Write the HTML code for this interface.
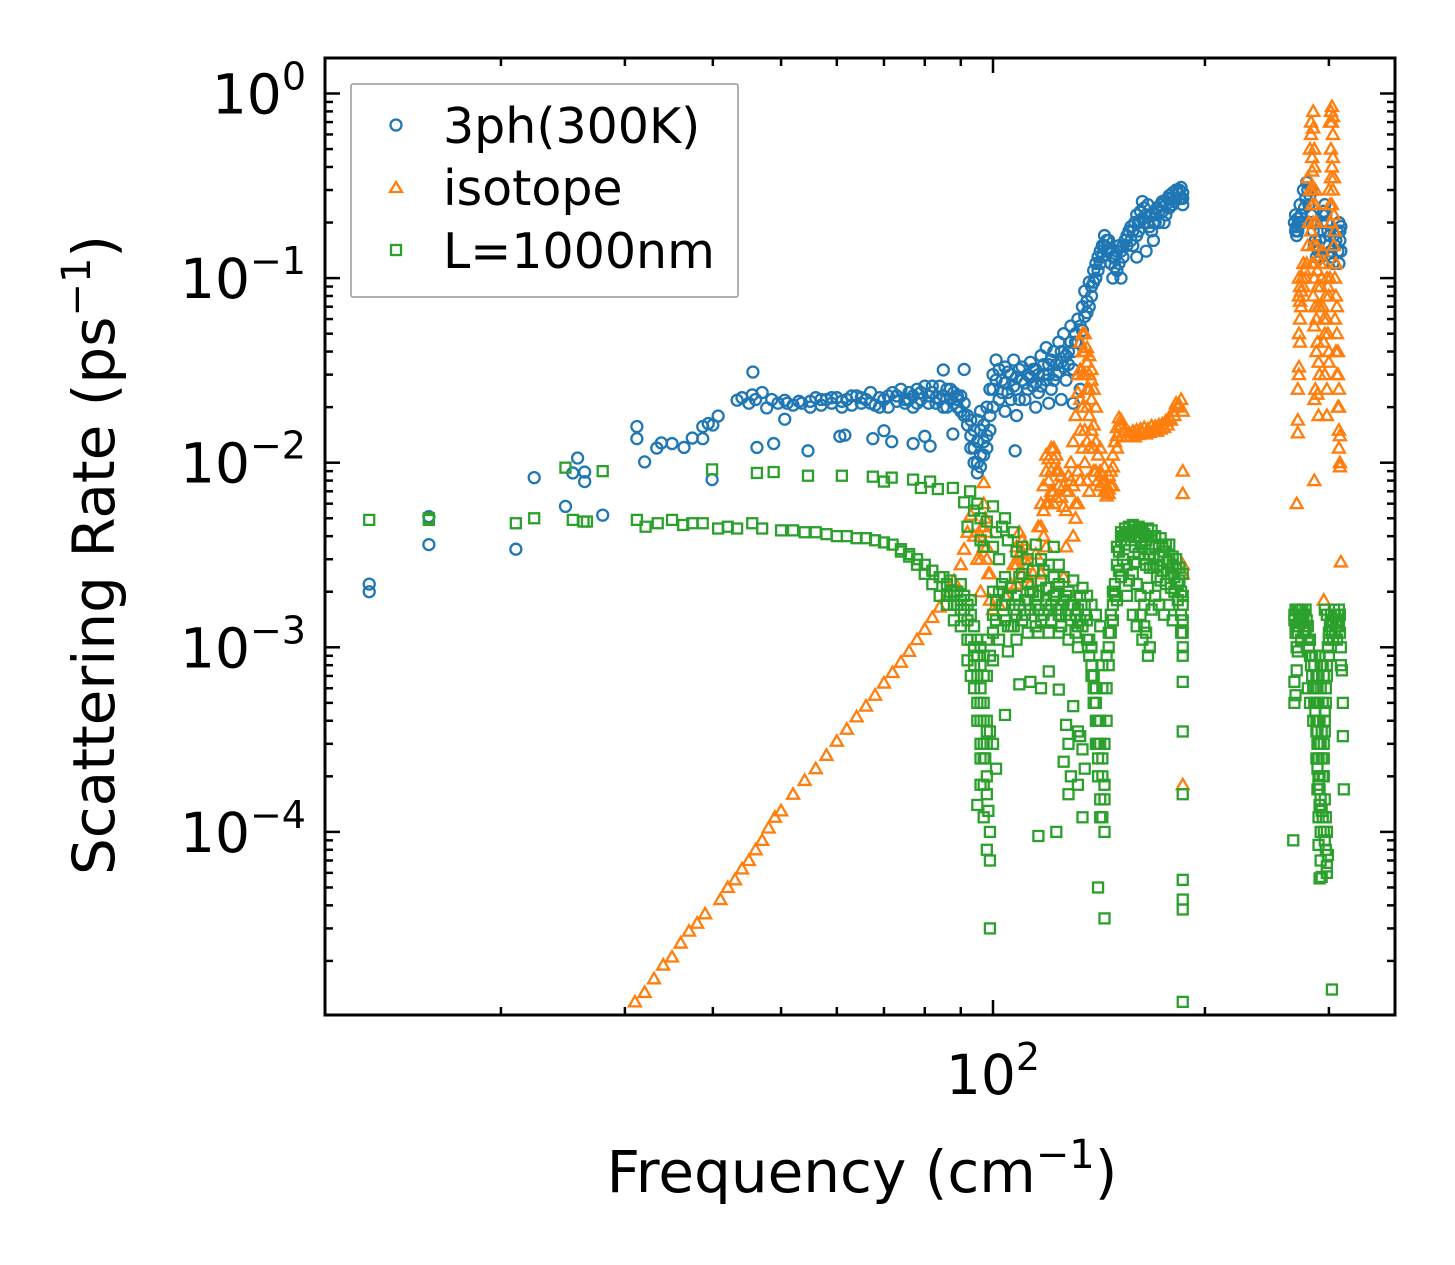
<!DOCTYPE html>
<html><head><meta charset="utf-8"><style>
html,body{margin:0;padding:0;background:#fff;}
svg{display:block;font-family:"DejaVu Sans","Liberation Sans",sans-serif;}
</style></head><body>
<svg id="chart" width="1455" height="1265" viewBox="0 0 1455 1265" xmlns="http://www.w3.org/2000/svg">
<defs><clipPath id="plotclip"><rect x="325" y="58" width="1070" height="957"/></clipPath></defs>
<rect width="1455" height="1265" fill="#fff"/>
<g id="marks" clip-path="url(#plotclip)"></g>
<g id="axes"></g>
<text x="862" y="1192" font-size="58" text-anchor="middle">Frequency (cm<tspan dy="-24" font-size="40">−1</tspan><tspan dy="24">)</tspan></text>
<text transform="translate(114,555) rotate(-90)" font-size="58" text-anchor="middle">Scattering Rate (ps<tspan dy="-24" font-size="40">−1</tspan><tspan dy="24">)</tspan></text>
<g>
<rect x="351" y="84" width="387" height="213" fill="#fff" fill-opacity="0.8" stroke="#999" stroke-width="1.5" rx="2"/>
<circle cx="396" cy="125" r="5.5" fill="none" stroke="#1f77b4" stroke-width="2.3"/>
<text x="443" y="143" font-size="49">3ph(300K)</text>
<path d="M396,182 L402,192 L390,192 Z" fill="none" stroke="#ff7f0e" stroke-width="2.3"/>
<text x="443" y="205" font-size="49">isotope</text>
<rect x="391" y="245" width="10" height="10" fill="none" stroke="#2ca02c" stroke-width="2.3"/>
<text x="443" y="268" font-size="49">L=1000nm</text>
</g>
</svg>
<script>
const threephPts = [[13,0.0022],[13,0.002],[15.8,0.0051],[15.8,0.0036],[21,0.0034],[22.3,0.0083],[24.7,0.0058],[25.3,0.0088],[25.7,0.0106],[26.3,0.0089],[26.3,0.0079],[27.9,0.0052],[31.2,0.0157],[31.2,0.0135],[32,0.0101],[33.3,0.012],[33.8,0.0128],[35,0.0127],[36.4,0.0121],[37.4,0.0136],[38.7,0.0135],[38.7,0.0157],[39.4,0.0163],[40,0.016],[40.7,0.0179],[39.9,0.0081],[43.3,0.0218],[44,0.0225],[45.5,0.0233],[45.6,0.031],[47,0.024],[47.7,0.0198],[48.5,0.022],[49.5,0.021],[50.6,0.0218],[50.6,0.0172],[52,0.0205],[53.5,0.021],[55,0.0215],[56,0.0225],[57,0.0205],[58,0.022],[59,0.021],[60,0.0225],[61,0.0215],[62,0.022],[63,0.0205],[64,0.023],[65,0.021],[66,0.022],[67,0.024],[68,0.0205],[69,0.0225],[70,0.022],[71,0.02],[72,0.024],[73,0.0215],[74,0.025],[75,0.022],[76,0.024],[77,0.02],[78,0.025],[79,0.022],[80,0.026],[81,0.021],[82,0.024],[83,0.0225],[84,0.026],[85,0.0318],[85,0.02],[86,0.025],[87,0.022],[88,0.024],[89,0.02],[90,0.023],[91,0.032],[91,0.018],[92,0.016],[93,0.014],[94,0.012],[95,0.01],[95,0.0088],[96,0.011],[96,0.015],[97,0.013],[98,0.02],[99,0.018],[99,0.025],[46.2,0.0121],[48.8,0.0127],[54.6,0.0116],[60.6,0.0139],[61.6,0.0141],[67.5,0.0135],[70,0.0149],[71.8,0.013],[77,0.0127],[80,0.0139],[81.4,0.0123],[87.7,0.0143],[107.5,0.0116],[100,0.03],[101,0.036],[102,0.022],[103,0.028],[104,0.033],[105,0.024],[106,0.03],[107,0.036],[108,0.025],[109,0.032],[110,0.028],[111,0.022],[112,0.03],[113,0.035],[114,0.026],[115,0.032],[116,0.024],[117,0.038],[118,0.03],[119,0.042],[120,0.034],[121,0.025],[122,0.04],[123,0.03],[124,0.045],[125,0.035],[126,0.05],[127,0.028],[128,0.04],[129,0.055],[130,0.032],[131,0.045],[132,0.06],[133,0.025],[134,0.07],[135,0.085],[136,0.065],[137,0.095],[138,0.08],[139,0.11],[140,0.1],[141,0.13],[142,0.12],[143,0.15],[144,0.17],[145,0.14],[146,0.16],[147,0.12],[148,0.1],[149,0.13],[150,0.11],[151,0.15],[152,0.1],[153,0.13],[155,0.17],[157,0.19],[158,0.15],[160,0.22],[161,0.18],[163,0.26],[164,0.2],[166,0.25],[167,0.22],[169,0.16],[170,0.2],[172,0.23],[174,0.26],[176,0.22],[178,0.28],[180,0.25],[182,0.3],[184,0.27],[185,0.31],[186,0.29],[186,0.25],[175,0.2],[165,0.14],[160,0.13],[100,0.02],[104,0.019],[108,0.018],[115,0.02],[120,0.021],[125,0.022],[130,0.021],[268,0.2],[269,0.22],[270,0.17],[271,0.21],[273,0.25],[276,0.3],[279,0.33],[282,0.28],[284,0.2],[286,0.15],[288,0.13],[290,0.14],[292,0.18],[294,0.22],[296,0.25],[298,0.2],[300,0.15],[303,0.13],[306,0.15],[308,0.18],[310,0.2],[311,0.16],[312,0.14],[312,0.19]];
const threephPtsExtra = [[100,0.025],[101,0.028],[102,0.032],[103,0.024],[104,0.027],[105,0.031],[106,0.022],[107,0.026],[108,0.029],[109,0.022],[110,0.033],[111,0.027],[112,0.025],[113,0.029],[114,0.032],[115,0.027],[116,0.03],[117,0.026],[118,0.034],[119,0.028],[120,0.03],[121,0.036],[122,0.028],[123,0.034],[124,0.031],[125,0.04],[126,0.033],[127,0.038],[128,0.034],[129,0.045],[130,0.04],[131,0.05],[132,0.045],[133,0.055],[134,0.052],[135,0.062],[136,0.075],[137,0.07],[138,0.09],[139,0.095],[140,0.12],[141,0.11],[142,0.14],[143,0.13],[144,0.15],[145,0.16],[146,0.14],[147,0.145],[148,0.13],[149,0.115],[150,0.14],[151,0.12],[152,0.14],[153,0.15],[154,0.16],[155,0.15],[156,0.18],[157,0.16],[158,0.18],[159,0.2],[160,0.17],[161,0.2],[162,0.23],[163,0.21],[164,0.24],[165,0.22],[166,0.2],[167,0.19],[168,0.18],[169,0.2],[170,0.22],[171,0.24],[172,0.2],[173,0.25],[174,0.23],[175,0.26],[176,0.25],[177,0.27],[178,0.24],[179,0.27],[180,0.29],[181,0.26],[182,0.27],[183,0.29],[184,0.3],[185,0.27],[186,0.27],[92,0.018],[93,0.017],[93,0.012],[94,0.015],[94,0.01],[95,0.013],[96,0.0095],[97,0.011],[97,0.016],[98,0.014],[98,0.012],[99,0.015],[96,0.019],[95,0.017],[90,0.019],[91,0.021],[89,0.023],[45,0.021],[46,0.022],[51,0.021],[53,0.0215],[55,0.02],[57,0.022],[59,0.0225],[61,0.02],[63,0.023],[65,0.0225],[67,0.021],[69,0.02],[71,0.023],[73,0.023],[75,0.021],[77,0.023],[79,0.024],[81,0.023],[83,0.021],[85,0.023],[87,0.025],[89,0.022],[84,0.022],[86,0.02],[88,0.021],[82,0.026],[78,0.021],[76,0.022],[270,0.19],[271,0.18],[272,0.2],[274,0.22],[275,0.2],[277,0.24],[278,0.27],[280,0.3],[281,0.25],[283,0.22],[285,0.18],[287,0.16],[289,0.15],[291,0.16],[293,0.2],[295,0.23],[297,0.22],[299,0.18],[301,0.17],[302,0.14],[304,0.12],[305,0.17],[307,0.16],[309,0.14],[310,0.12],[311,0.18],[269,0.18],[283,0.3],[292,0.13]];
const isotopePts = [[31,1.2e-5],[32,1.35e-5],[33,1.6e-5],[34,1.9e-5],[35,2.1e-5],[36,2.5e-5],[37,2.9e-5],[38,3.2e-5],[39,3.6e-5],[41,4.3e-5],[42,5e-5],[43,5.5e-5],[44,6.3e-5],[45,7e-5],[46,8e-5],[47,9e-5],[48,1.05e-4],[49,1.2e-4],[50,1.3e-4],[52,1.6e-4],[54,1.9e-4],[56,2.2e-4],[58,2.6e-4],[60,3.1e-4],[62,3.6e-4],[64,4.2e-4],[66,4.8e-4],[68,5.5e-4],[70,6.4e-4],[72,7.3e-4],[74,8.3e-4],[76,9.5e-4],[78,1.1e-3],[80,1.25e-3],[82,1.45e-3],[84,1.65e-3],[86,1.9e-3],[88,2.3e-3],[90,2.8e-3],[91,3.4e-3],[92,4.2e-3],[93,5.2e-3],[94,4e-3],[95,3e-3],[96,0.002],[96,0.003],[96.5,0.0045],[97,0.006],[97,0.0078],[97.5,0.005],[98,0.0035],[98.5,0.0025],[99,0.0018],[100,0.0016],[102,0.0017],[104,0.0019],[106,0.0022],[107,0.0028],[108,0.0035],[109,0.0042],[110,0.0038],[111,0.003],[112,0.0024],[113,0.0022],[114,0.0025],[115,0.0032],[116,0.0045],[117,0.006],[118,0.0075],[119,0.009],[120,0.0105],[121,0.012],[122,0.0105],[123,0.009],[124,0.0075],[125,0.0065],[126,0.0058],[127,0.0055],[128,0.007],[129,0.01],[130,0.013],[131,0.018],[132,0.024],[133,0.032],[134,0.04],[135,0.05],[136,0.042],[137,0.03],[138,0.022],[139,0.016],[140,0.013],[141,0.011],[142,0.009],[143,0.0078],[144,0.007],[145,0.0066],[146,0.0072],[147,0.009],[148,0.011],[149,0.013],[150,0.0155],[151,0.0175],[152,0.016],[153,0.0145],[155,0.0138],[157,0.014],[159,0.0138],[161,0.0142],[163,0.0145],[165,0.0143],[167,0.0146],[169,0.015],[171,0.0148],[173,0.0152],[175,0.0155],[177,0.016],[179,0.017],[181,0.018],[183,0.02],[185,0.022],[186,0.019],[130,0.004],[131,0.006],[132,0.009],[133,0.015],[134,0.02],[135,0.03],[136,0.025],[137,0.018],[136,0.013],[118,0.004],[120,0.006],[122,0.007],[119,0.0035],[117,0.0025],[127,0.0035],[126,0.0024],[110,0.0025],[108,0.0022],[142,0.012],[144,0.0095],[146,0.0085],[148,0.0075],[150,0.012],[140,0.02],[139,0.025],[138,0.032],[186,0.009],[186,0.0068],[186,0.0028],[186,0.0025],[186,0.00018],[272,0.1],[272,0.08],[273,0.06],[273,0.045],[272,0.033],[272,0.03],[271,0.017],[271,0.0145],[270,0.006],[280,0.35],[282,0.5],[284,0.3],[285,0.8],[285,0.2],[286,0.12],[285,0.08],[286,0.055],[288,0.04],[287,0.025],[286,0.022],[289,0.0235],[290,0.018],[286,0.008],[292,0.12],[294,0.14],[295,0.045],[296,0.03],[298,0.025],[298,0.018],[300,0.3],[302,0.5],[303,0.85],[304,0.6],[305,0.15],[306,0.06],[307,0.04],[308,0.03],[309,0.02],[310,0.015],[310,0.012],[311,0.01],[311,0.0095],[295,0.0018],[312,0.0029]];
const isotopePtsExtra = [[283,0.7],[283,0.6],[284,0.45],[284,0.38],[285,0.65],[286,0.5],[286,0.4],[287,0.3],[287,0.25],[288,0.2],[288,0.15],[289,0.11],[289,0.09],[290,0.07],[284,0.25],[285,0.15],[286,0.1],[287,0.07],[288,0.06],[289,0.045],[290,0.035],[291,0.03],[283,0.18],[284,0.12],[282,0.3],[281,0.2],[280,0.15],[279,0.12],[278,0.1],[276,0.09],[274,0.085],[273,0.075],[301,0.7],[302,0.8],[303,0.7],[304,0.75],[304,0.45],[303,0.4],[302,0.35],[301,0.25],[302,0.2],[303,0.25],[304,0.3],[305,0.22],[305,0.35],[306,0.18],[306,0.1],[307,0.12],[307,0.08],[308,0.07],[308,0.05],[309,0.04],[309,0.03],[310,0.025],[310,0.02],[311,0.014],[296,0.12],[298,0.1],[299,0.09],[300,0.08],[301,0.1],[297,0.08],[298,0.06],[299,0.05],[300,0.04],[300,0.035],[296,0.05],[295,0.06],[294,0.07],[293,0.1],[292,0.09],[291,0.07],[271,0.025],[272,0.05],[273,0.09],[274,0.07],[275,0.1],[276,0.12],[277,0.11],[132,0.03],[133,0.045],[134,0.05],[133,0.022],[134,0.03],[135,0.04],[136,0.035],[137,0.038],[138,0.028],[137,0.025],[136,0.02],[135,0.015],[134,0.012],[133,0.008],[132,0.006],[131,0.005],[137,0.012],[138,0.015],[139,0.012],[140,0.009],[141,0.008],[142,0.0075],[139,0.009],[135,0.01],[136,0.008],[137,0.007],[119,0.011],[120,0.008],[121,0.009],[122,0.012],[123,0.011],[121,0.007],[119,0.006],[118,0.0055],[117,0.0045],[122,0.006],[123,0.0065],[124,0.009],[125,0.0085],[126,0.0075],[127,0.007],[128,0.0085],[129,0.008],[130,0.0075],[152,0.017],[154,0.015],[156,0.0145],[158,0.0148],[160,0.015],[162,0.0152],[164,0.0155],[166,0.0152],[168,0.0158],[170,0.0157],[172,0.016],[174,0.0162],[176,0.0168],[178,0.0175],[180,0.019],[182,0.021],[184,0.0205],[150,0.014],[148,0.0095],[147,0.0075],[146,0.0068],[145,0.0072],[144,0.0078],[143,0.0085],[109,0.0032],[110,0.0033],[111,0.0036],[108,0.0028],[112,0.0028],[96,0.004],[97,0.0045],[97,0.0035],[98,0.0042],[98,0.003],[99,0.0025]];
const boundaryPts = [[13,0.0049],[15.8,0.005],[15.8,0.0049],[21,0.0047],[22.3,0.005],[24.7,0.0094],[25.3,0.0049],[26.2,0.0048],[26.5,0.0048],[27.9,0.009],[31.2,0.0049],[32.1,0.0045],[33.4,0.0047],[35,0.0049],[36.3,0.0046],[37.4,0.0047],[38.7,0.0047],[39.9,0.0092],[40.7,0.0044],[42,0.0045],[43.3,0.0044],[45.5,0.0047],[46.2,0.0088],[47,0.0044],[48.8,0.0089],[50,0.0043],[52,0.0043],[54,0.0042],[54.6,0.0085],[56,0.0042],[58,0.0041],[60,0.004],[61,0.0085],[62,0.004],[64,0.0039],[66,0.0039],[67.5,0.0084],[68,0.0038],[70,0.0079],[70,0.0037],[71.8,0.0083],[72,0.0036],[74,0.0034],[76,0.0032],[77,0.0081],[78,0.003],[79,0.0073],[80,0.0028],[81.4,0.0079],[82,0.0026],[83.5,0.0072],[84,0.0024],[85,0.0024],[86,0.0022],[87,0.002],[87.7,0.0073],[88,0.0019],[89,0.0017],[90,0.0016],[91,0.0061],[92.8,0.007],[90,0.0022],[91,0.0019],[92,0.0017],[93,0.0015],[94,0.0013],[95,0.0011],[95,0.0009],[96,0.0008],[96,0.0006],[97,0.0005],[97,0.0004],[97,0.0003],[97.5,0.00025],[98,0.0002],[98,0.00016],[98.5,0.00013],[99,0.0001],[97,0.00012],[98,0.00008],[99,0.00007],[99,0.00003],[98,0.0007],[99,0.0009],[100,0.0012],[100,0.0015],[101,0.0018],[102,0.002],[103,0.0022],[104,0.0017],[105,0.0013],[106,0.0021],[107,0.0016],[108,0.0019],[109,0.0024],[110,0.0014],[111,0.0018],[112,0.0022],[113,0.0016],[114,0.002],[115,0.0013],[116,0.0019],[117,0.0023],[118,0.0015],[119,0.0018],[120,0.0021],[121,0.0014],[122,0.0019],[123,0.0016],[124,0.0022],[125,0.0013],[126,0.0018],[127,0.0015],[128,0.002],[129,0.0014],[130,0.0017],[131,0.0012],[132,0.0016],[133,0.0019],[134,0.0013],[135,0.0015],[136,0.0011],[137,0.0009],[138,0.0007],[139,0.0005],[140,0.0004],[140,0.0003],[141,0.00025],[141,0.0002],[142,0.00015],[142,0.00012],[143,0.0006],[143,0.0008],[144,0.0003],[144,0.0001],[141,0.00005],[144,0.000034],[145,0.0009],[146,0.0012],[147,0.0015],[148,0.0017],[92,0.0011],[94,0.0009],[100,0.00085],[102,0.0011],[104,0.0024],[106,0.0013],[108,0.0011],[110,0.0025],[112,0.0012],[114,0.0026],[116,0.0012],[118,0.0026],[120,0.0012],[122,0.0024],[124,0.0012],[126,0.0024],[128,0.0011],[130,0.0023],[132,0.001],[134,0.0021],[136,0.0019],[138,0.0017],[140,0.0015],[142,0.0013],[90,0.0013],[88,0.0014],[86,0.0017],[84,0.0019],[82,0.0022],[80,0.0025],[78,0.0028],[76,0.0031],[74,0.0033],[92,0.0045],[94,0.0055],[95,0.006],[96,0.005],[98,0.0048],[100,0.0058],[101,0.0042],[103,0.0045],[104,0.005],[105,0.0038],[107,0.0042],[108,0.0033],[110,0.0035],[112,0.003],[115,0.0036],[117,0.003],[120,0.0028],[122,0.0035],[124,0.0028],[100,0.0035],[102,0.003],[97,0.0035],[96,0.0038],[92,0.00085],[93,0.0007],[94,0.0006],[104,0.00043],[105,0.00095],[109,0.00063],[113,0.00065],[117,0.0006],[120,0.00074],[124,0.00059],[126,0.00024],[127,0.00038],[128,0.0003],[129,0.0002],[130,0.00048],[132,0.00035],[133,0.00033],[134,0.00028],[135,0.00022],[128,0.00016],[132,0.00018],[134,0.00012],[116,0.000095],[123,0.0001],[98,0.0004],[99,0.00035],[100,0.0003],[101,0.00022],[96,0.00025],[96,0.00018],[95,0.00014],[149,0.0022],[150,0.0028],[151,0.0033],[152,0.0038],[153,0.004],[154,0.0036],[155,0.0042],[156,0.0045],[157,0.0038],[158,0.0043],[159,0.0035],[160,0.004],[161,0.0045],[162,0.0037],[163,0.0042],[164,0.003],[165,0.0038],[166,0.0044],[167,0.0032],[168,0.004],[169,0.0027],[170,0.0035],[171,0.0024],[172,0.0031],[173,0.0039],[174,0.0026],[175,0.0033],[176,0.0022],[177,0.0029],[178,0.0036],[179,0.0025],[180,0.0031],[181,0.002],[182,0.0027],[183,0.0018],[184,0.0023],[185,0.0015],[185,0.0012],[186,0.001],[186,0.0009],[186,0.0025],[186,0.0019],[186,0.0014],[186,0.00065],[186,0.00035],[186,0.00016],[186,0.000055],[186,0.000043],[186,0.000038],[186,0.000012],[150,0.0018],[152,0.0024],[155,0.0028],[158,0.0025],[160,0.0022],[162,0.0019],[164,0.0017],[166,0.0021],[168,0.0016],[170,0.0019],[160,0.0013],[163,0.0011],[166,0.0009],[158,0.0015],[155,0.0019],[172,0.0017],[175,0.0015],[178,0.0017],[180,0.0014],[268,0.0014],[269,0.0012],[270,0.001],[271,0.0016],[272,0.0013],[273,0.0015],[274,0.0011],[275,0.0014],[276,0.0012],[278,0.0016],[280,0.0013],[282,0.0011],[284,0.0009],[286,0.0008],[287,0.0006],[288,0.0005],[289,0.0004],[290,0.0003],[288,0.00035],[290,0.00025],[291,0.0002],[289,0.00017],[291,0.00014],[290,0.00012],[292,0.0001],[290,0.000085],[292,0.00007],[291,0.000056],[293,0.000057],[270,0.00075],[268,0.00065],[269,0.00055],[268,0.0005],[271,0.00095],[267,0.00009],[296,0.0016],[298,0.0015],[300,0.0012],[302,0.0014],[304,0.0011],[306,0.0015],[308,0.0013],[310,0.0016],[311,0.0012],[312,0.001],[300,0.0009],[298,0.0007],[297,0.0005],[296,0.0004],[296,0.00035],[295,0.00025],[295,0.0002],[296,0.00015],[297,0.00012],[298,0.0001],[299,0.000075],[298,0.00006],[298,0.000065],[312,0.0008],[313,0.00075],[314,0.0005],[314,0.00033],[315,0.00017],[303,0.000014],[280,0.0006],[282,0.0005],[285,0.0004],[292,0.0006],[294,0.0008]];
const boundaryPtsExtra = [[268,0.0015],[269,0.0016],[270,0.0013],[271,0.0012],[272,0.0015],[273,0.0016],[274,0.0014],[275,0.0016],[276,0.0015],[277,0.0013],[278,0.0012],[279,0.0014],[280,0.0011],[281,0.001],[282,0.0009],[283,0.0008],[284,0.0007],[285,0.0006],[286,0.0005],[287,0.00045],[288,0.0004],[289,0.00035],[290,0.0005],[291,0.0004],[292,0.0003],[293,0.00025],[294,0.0002],[295,0.0003],[296,0.00045],[297,0.0006],[298,0.0008],[299,0.001],[300,0.0011],[301,0.0013],[302,0.0015],[303,0.0012],[304,0.0014],[305,0.0016],[306,0.0012],[307,0.0014],[308,0.0011],[309,0.0015],[310,0.0013],[311,0.0015],[289,0.0003],[290,0.0002],[291,0.00017],[292,0.00015],[293,0.00013],[294,0.00012],[295,0.0001],[296,0.00009],[297,0.00008],[288,0.00025],[289,0.00022],[290,0.00018],[293,0.00035],[294,0.0005],[295,0.0007],[292,0.0008],[291,0.0009],[290,0.0007],[289,0.0006],[288,0.0007],[287,0.0009],[95,0.0007],[96,0.0005],[96,0.0004],[97,0.0007],[97,0.00025],[98,0.00035],[98,0.0003],[97,0.00018],[96,0.0003],[95,0.0005],[95,0.0004],[94,0.0008],[94,0.001],[93,0.0011],[96,0.001],[97,0.0009],[98,0.0011],[101,0.0014],[103,0.0017],[105,0.0019],[107,0.0013],[109,0.0017],[111,0.0015],[113,0.002],[115,0.0017],[117,0.0014],[119,0.0021],[121,0.0017],[123,0.002],[125,0.0016],[127,0.0019],[129,0.0017],[131,0.0015],[133,0.0014],[135,0.0017],[100,0.002],[104,0.0014],[108,0.0015],[112,0.0018],[116,0.0016],[120,0.0016],[124,0.0015],[128,0.0017],[132,0.0013],[136,0.0014],[90,0.0018],[91,0.0016],[92,0.0014],[93,0.0018],[88,0.0017],[86,0.0019],[87,0.0023],[89,0.002],[137,0.0011],[138,0.001],[138,0.0008],[139,0.0007],[139,0.0006],[140,0.0005],[140,0.0006],[141,0.0004],[141,0.0003],[142,0.0004],[142,0.0003],[143,0.0002],[143,0.00025],[144,0.00015],[144,0.00018],[145,0.0004],[145,0.0006],[146,0.0008],[146,0.001],[147,0.0012],[148,0.0014],[143,0.00012],[150,0.0035],[152,0.0042],[154,0.0044],[156,0.004],[158,0.0046],[160,0.0043],[162,0.0044],[164,0.0041],[166,0.004],[168,0.0043],[170,0.004],[172,0.0036],[174,0.0035],[176,0.0036],[178,0.003],[180,0.0028],[182,0.003],[184,0.0027],[159,0.0029],[161,0.0032],[163,0.0035],[165,0.0028],[167,0.0027],[169,0.003],[171,0.0028],[173,0.0023],[177,0.0025],[179,0.0021],[181,0.0024],[183,0.0022],[185,0.002],[186,0.0017],[186,0.0012],[162,0.0015],[164,0.0013],[165,0.0012],[167,0.001],[156,0.0023],[153,0.003],[151,0.0026],[149,0.0019],[148,0.002]];
const yMajorExps = [0,-1,-2,-3,-4];
const xMajorVals = [100];
const xMinorVals = [20,30,40,50,60,70,80,90,200,300];

const NS = "http://www.w3.org/2000/svg";
const PL = 325, PR = 1395, PT = 58, PB = 1015;
function X(f){ return 993 + 704*Math.log10(f/100); }
function Y(r){ return 93.5 - 184.6*Math.log10(r); }
function mk(tag, attrs, parent){
  const el = document.createElementNS(NS, tag);
  for (const k in attrs) el.setAttribute(k, attrs[k]);
  parent.appendChild(el);
  return el;
}
const marks = document.getElementById('marks');
const gB = mk('g', {fill:'none', stroke:'#1f77b4', 'stroke-width':2.3}, marks);


const gO = mk('g', {fill:'none', stroke:'#ff7f0e', 'stroke-width':2.3}, marks);


const gG = mk('g', {fill:'none', stroke:'#2ca02c', 'stroke-width':2.3}, marks);


threephPts.concat(threephPtsExtra).forEach(p => {
  const c = mk('circle', {cx:X(p[0]), cy:Y(p[1]), r:5.5}, gB);
  
  
});
isotopePts.concat(isotopePtsExtra).forEach(p => {
  const x = X(p[0]), y = Y(p[1]);
  const t = mk('path', {d:`M${x},${y-6} L${x+6},${y+4.5} L${x-6},${y+4.5} Z`}, gO);
  
  
});
boundaryPts.concat(boundaryPtsExtra).forEach(p => {
  const s = mk('rect', {x:X(p[0])-5, y:Y(p[1])-5, width:10, height:10}, gG);
  
  
});

const axes = document.getElementById('axes');
function tick(x1,y1,x2,y2,name){
  const l = mk('line', {x1:x1,y1:y1,x2:x2,y2:y2,stroke:'#000','stroke-width':2.5}, axes);
  
  
}
for (let e=-5; e<=0; e++){
  for (let k=2; k<=9; k++){
    const y = Y(k*Math.pow(10,e));
    if (y < PT+2 || y > PB-2) continue;
    tick(PL,y,PL+8,y,'y-minor-tick'); tick(PR,y,PR-8,y,'y-minor-tick');
  }
}
yMajorExps.forEach(e => {
  const y = Y(Math.pow(10,e));
  tick(PL,y,PL+15,y,'y-major-tick'); tick(PR,y,PR-15,y,'y-major-tick');
  const t = mk('text', {x:306, y:y+20, 'font-size':55, 'text-anchor':'end'}, axes);
  
  
  const a = mk('tspan', {}, t); a.textContent = '10';
  const b = mk('tspan', {dy:-24, 'font-size':38}, t); b.textContent = e===0 ? '0' : '−' + (-e);
});
xMinorVals.forEach(v => {
  const x = X(v);
  tick(x,PB,x,PB-8,'x-minor-tick'); tick(x,PT,x,PT+8,'x-minor-tick');
});
xMajorVals.forEach(v => {
  const x = X(v);
  tick(x,PB,x,PB-15,'x-major-tick'); tick(x,PT,x,PT+15,'x-major-tick');
  const t = mk('text', {x:x, y:1094, 'font-size':55, 'text-anchor':'middle'}, axes);
  
  
  const a = mk('tspan', {}, t); a.textContent = '10';
  const b = mk('tspan', {dy:-24, 'font-size':38}, t); b.textContent = '2';
});
const frame = mk('rect', {x:PL, y:PT, width:PR-PL, height:PB-PT, fill:'none', stroke:'#000', 'stroke-width':3}, axes);


</script>
</body></html>
